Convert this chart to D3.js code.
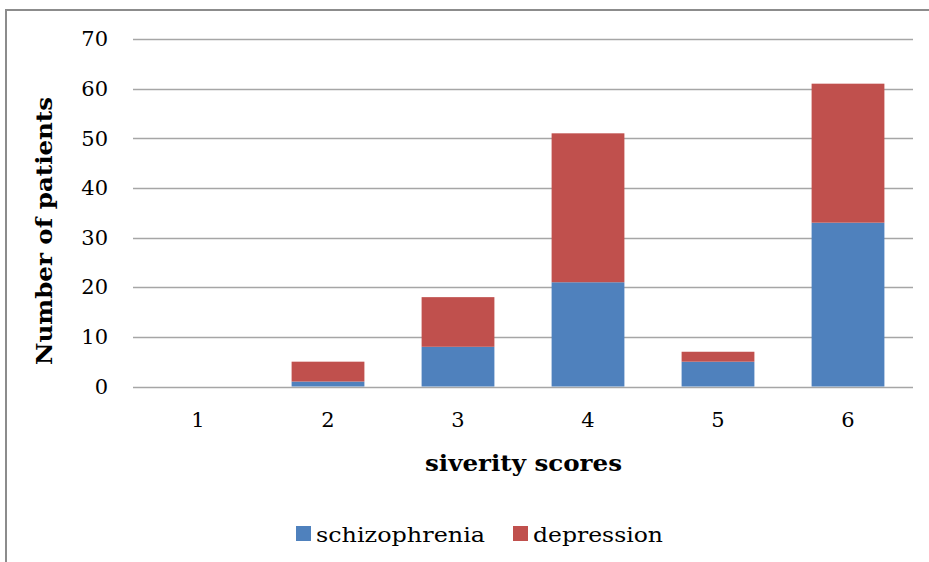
<!DOCTYPE html>
<html>
<head>
<meta charset="utf-8">
<script src="https://cdn.jsdelivr.net/npm/d3@7"></script>
<style>
  html, body { margin: 0; padding: 0; background: #fff; }
  svg { display: block; }
  text { font-family: "DejaVu Serif", "Liberation Serif", serif; fill: #000; }
</style>
</head>
<body>
<script>
// Severity scores and patient counts per diagnosis
const categories = ["1", "2", "3", "4", "5", "6"];
const schizophrenia = [0, 1, 8, 21, 5, 33];
const depression = [0, 4, 10, 30, 2, 28];
const seriesNames = ["schizophrenia", "depression"];
const seriesColors = ["#4F81BD", "#C0504D"];
const yTicks = [0, 10, 20, 30, 40, 50, 60, 70];

(function () {
  const W = 929, H = 562;
  const svg = d3.select("body").append("svg").attr("width", W).attr("height", H);

  // outer chart frame
  svg.append("rect")
    .attr("x", 6).attr("y", 10).attr("width", W + 20).attr("height", H + 20)
    .attr("fill", "#fff").attr("stroke", "#8c8c8c").attr("stroke-width", 2);

  const plotLeft = 133, plotRight = 913, plotTop = 39, plotBottom = 386.5;

  const x = d3.scaleBand().domain(categories).range([plotLeft, plotRight]).paddingInner(0.44).paddingOuter(0.22);
  const y = d3.scaleLinear().domain([0, 70]).range([plotBottom, plotTop]);

  // gridlines
  svg.append("g").selectAll("line").data(yTicks).join("line")
    .attr("x1", plotLeft).attr("x2", plotRight)
    .attr("y1", d => Math.round(y(d)) + 0.5).attr("y2", d => Math.round(y(d)) + 0.5)
    .attr("stroke", "#a6a6a6").attr("stroke-width", 1.3);

  // stacked bars
  const table = categories.map((c, i) => ({ cat: c, schizophrenia: schizophrenia[i], depression: depression[i] }));
  const stacked = d3.stack().keys(seriesNames)(table);
  svg.append("g").selectAll("g").data(stacked).join("g")
    .attr("fill", (d, i) => seriesColors[i])
    .selectAll("rect").data(d => d).join("rect")
    .attr("x", d => x(d.data.cat))
    .attr("width", x.bandwidth())
    .attr("y", d => y(d[1]))
    .attr("height", d => y(d[0]) - y(d[1]));

  // y axis labels
  const yAxis = d3.axisLeft(y).tickValues(yTicks).tickSize(0).tickPadding(0);
  const gy = svg.append("g").attr("transform", `translate(${plotLeft - 25},0)`).call(yAxis);
  gy.select(".domain").remove();
  gy.selectAll("text").attr("font-size", 21).attr("font-family", "DejaVu Serif, serif").attr("fill", "#000");

  // x axis labels
  const xAxis = d3.axisBottom(x).tickSize(0).tickPadding(0);
  const gx = svg.append("g").attr("transform", `translate(0,${plotBottom + 25.5})`).call(xAxis);
  gx.select(".domain").remove();
  gx.selectAll("text").attr("font-size", 21).attr("font-family", "DejaVu Serif, serif").attr("fill", "#000");

  // axis titles
  svg.append("text")
    .attr("x", 425).attr("y", 471)
    .attr("font-size", 22).attr("font-weight", "bold")
    .attr("textLength", 197).attr("lengthAdjust", "spacingAndGlyphs")
    .text("siverity scores");

  svg.append("text")
    .attr("transform", `translate(52,365) rotate(-90)`)
    .attr("font-size", 23).attr("font-weight", "bold")
    .attr("textLength", 268).attr("lengthAdjust", "spacingAndGlyphs")
    .text("Number of patients");

  // legend
  const legendItems = [
    { name: seriesNames[0], color: seriesColors[0], x: 296, len: 169 },
    { name: seriesNames[1], color: seriesColors[1], x: 513, len: 130 }
  ];
  const lg = svg.append("g").selectAll("g").data(legendItems).join("g")
    .attr("transform", d => `translate(${d.x},526)`);
  lg.append("rect").attr("width", 15).attr("height", 15).attr("fill", d => d.color);
  lg.append("text").attr("x", 20).attr("y", 15.5).attr("font-size", 21)
    .attr("textLength", d => d.len).attr("lengthAdjust", "spacingAndGlyphs")
    .text(d => d.name);
})();
</script>
</body>
</html>
